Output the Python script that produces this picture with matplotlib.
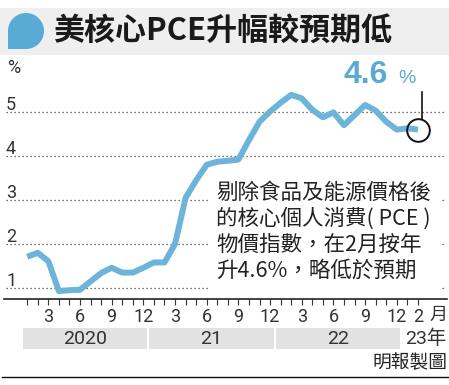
import matplotlib
matplotlib.use("Agg")
import matplotlib.pyplot as plt
from matplotlib import transforms
from matplotlib.patches import Rectangle, Polygon
import numpy as np

# ---------------- data ----------------
values_2020 = [1.71, 1.80, 1.61, 0.93, 0.95, 0.96, 1.15, 1.34, 1.46, 1.35, 1.35, 1.46]
values_2021 = [1.58, 1.58, 2.00, 3.05, 3.45, 3.80, 3.87, 3.89, 3.92, 4.36, 4.78, 5.01]
values_2022 = [5.21, 5.39, 5.31, 5.05, 4.88, 4.99, 4.70, 4.93, 5.16, 5.03, 4.78, 4.60]
values_2023 = [4.63, 4.60]
values = values_2020 + values_2021 + values_2022 + values_2023
months = list(range(1, len(values) + 1))  # 1 = Jan 2020

tick_months = [3, 6, 9, 12, 15, 18, 21, 24, 27, 30, 33, 36, 38]
tick_labels = ["3", "6", "9", "12", "3", "6", "9", "12", "3", "6", "9", "12", "2"]
year_labels = ["2020", "21", "22"]
year_starts = [1, 13, 25]
year_ends = [12, 24, 36]
last_year_label = "23年"
month_unit = "月"
y_ticks = [1, 2, 3, 4, 5]
title = "美核心PCE升幅較預期低"
highlight_value = "4.6"
annot_lines = ["剔除食品及能源價格後", "的核心個人消費( PCE )", "物價指數，在2月按年", "升4.6%，略低於預期"]
source = "明報製圖"

# ---------------- style ----------------
BLUE_LINE = "#6cb4d9"
BLUE = "#5aaad6"
DARK = "#222222"
CJK = ["Noto Sans CJK TC", "DejaVu Sans"]
NUM = ["Roboto", "Noto Sans CJK TC"]

W, H = 449, 385
X0, DX = 27.2, 10.56      # pixel x of month 1, pixels per month
Y1, DY = 288.0, 44.0      # pixel y of value 1, pixels per unit
AX_BOTTOM_PX, AX_TOP_PX = 299.3, 60.0

fig = plt.figure(figsize=(W / 100, H / 100), dpi=100)
fig.patch.set_facecolor("white")

deco = fig.add_axes([0, 0, 1, 1], zorder=0)
deco.set_xlim(0, W)
deco.set_ylim(H, 0)
deco.axis("off")

ax = fig.add_axes([0, (H - AX_BOTTOM_PX) / H, 1, (AX_BOTTOM_PX - AX_TOP_PX) / H], zorder=1)
ax.patch.set_alpha(0)
ax.set_xlim(1 - X0 / DX, 1 + (W - X0) / DX)
ax.set_ylim(1 - (AX_BOTTOM_PX - Y1) / DY, 1 + (Y1 - AX_TOP_PX) / DY)

px_x_data_y = transforms.blended_transform_factory(deco.transData, ax.transData)
data_x_px_y = transforms.blended_transform_factory(ax.transData, deco.transData)

# title band and icon
deco.add_patch(Rectangle((0, 8), W, 47, facecolor="#efefef", edgecolor="none"))
cx, cy, r = 26, 31, 18
th = np.linspace(np.pi, -np.pi / 2, 60)
pts = np.column_stack([cx + r * np.cos(th), cy - r * np.sin(th)])
pts = np.vstack([pts, [cx - r, cy + r]])
deco.add_patch(Polygon(pts, closed=True, facecolor=BLUE, edgecolor="none"))
deco.text(53, 31, title, ha="left", va="center", fontsize=22.3, fontweight="bold",
          family=CJK, color="#1a1a1a")

# gridlines + y labels
for v in y_ticks:
    ax.plot([6, 445], [v, v], transform=px_x_data_y, color="#444444", lw=0.9,
            linestyle=(0, (1, 2.2)), zorder=1, clip_on=False)
    ax.text(6, v + 2 / DY, str(v), transform=px_x_data_y, ha="left", va="baseline",
            fontsize=13, family=NUM, color="#333333")
deco.text(7, 73, "%", ha="left", va="baseline", fontsize=13, family=NUM, color="#333333")

# white box behind annotation
ax.add_patch(Rectangle((208, 172), 232, 120, transform=deco.transData, facecolor="white",
                       edgecolor="none", zorder=2, clip_on=False))
for i, line in enumerate(annot_lines):
    ax.text(216, 193 + 26 * i, line, transform=deco.transData, ha="left", va="center",
            fontsize=15.5, family=CJK, color=DARK, zorder=5)

# main line
ax.plot(months, values, color=BLUE_LINE, lw=4.3, zorder=3,
        solid_joinstyle="round", solid_capstyle="butt")
ax.plot([months[-1]], [values[-1]], "o", ms=16.3, mfc="none", mec="#111111", mew=1.4, zorder=4)
ax.plot([422, 422], [92, 119], transform=deco.transData, color="#111111", lw=1.2,
        zorder=4, clip_on=False)
ax.text(344, 83, highlight_value, transform=deco.transData, ha="left", va="baseline",
        fontsize=23, fontweight="bold", family=["Liberation Sans", "DejaVu Sans"], color=BLUE)
ax.text(398, 83, "%", transform=deco.transData, ha="left", va="baseline",
        fontsize=14, family=["Liberation Sans", "DejaVu Sans"], color=BLUE)

# x axis
for s in ["top", "left", "right"]:
    ax.spines[s].set_visible(False)
ax.spines["bottom"].set_color(DARK)
ax.spines["bottom"].set_linewidth(1.2)
ax.spines["bottom"].set_bounds(1 + (4 - X0) / DX, 1 + (447 - X0) / DX)
ax.set_yticks([])
ax.set_xticks(tick_months)
ax.set_xticklabels(tick_labels)
ax.set_xticks(months, minor=True)
ax.tick_params(axis="x", which="both", direction="out", length=4, width=0.8, color="#333333")
ax.tick_params(axis="x", which="major", labelsize=13, pad=2, labelcolor="#333333")
for lab in ax.get_xticklabels():
    lab.set_family(NUM)
ax.text(438, 315, month_unit, transform=deco.transData, ha="center", va="center",
        fontsize=13, family=CJK, color="#333333")

# year bands
for lab, s, e in zip(year_labels, year_starts, year_ends):
    ax.add_patch(Rectangle((s - 0.43, 328), (e + 0.33) - (s - 0.43), 21, transform=data_x_px_y,
                           facecolor="#e2e2e2", edgecolor="none", clip_on=False, zorder=1))
    ax.text((s + e) / 2 - 0.05, 338.5, lab, transform=data_x_px_y, ha="center", va="center",
            fontsize=14, family=NUM, color="#333333")
ax.text(447, 338.5, last_year_label, transform=deco.transData, ha="right", va="center",
        fontsize=14, family=NUM, color="#333333")

# source and bottom rule
deco.text(447, 362, source, ha="right", va="center", fontsize=13.5, family=CJK, color=DARK)
deco.plot([2, 448], [377, 377], color="#111111", lw=1.0)

fig.savefig("out.png", dpi=100)
